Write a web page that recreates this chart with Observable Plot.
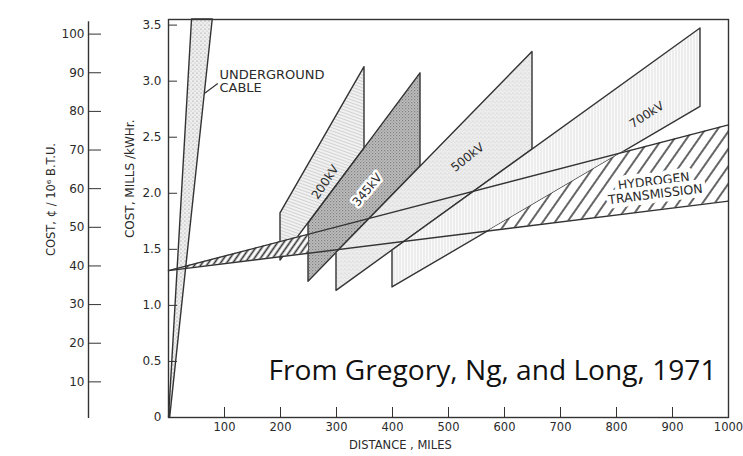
<!DOCTYPE html>
<html><head><meta charset="utf-8">
<script src="https://cdn.jsdelivr.net/npm/d3@7"></script>
<script src="https://cdn.jsdelivr.net/npm/@observablehq/plot@0.6"></script>
<style>body{margin:0;background:#fff}</style>
</head><body><div id="chart"></div>
<script>
// ---- tick values ----
const distanceTicks = [100, 200, 300, 400, 500, 600, 700, 800, 900, 1000];
const millsTicks = [0, 0.5, 1.0, 1.5, 2.0, 2.5, 3.0, 3.5];
const centsTicks = [10, 20, 30, 40, 50, 60, 70, 80, 90, 100];

// ---- overhead transmission bands (cost in mills/kWh vs distance in miles) ----
const bandNames      = ["200kV", "345kV", "500kV", "700kV"];
const bandStart      = [200, 250, 300, 400];
const bandEnd        = [350, 450, 650, 950];
const bandLowStart   = [1.40, 1.21, 1.13, 1.16];
const bandLowEnd     = [2.40, 2.24, 2.39, 2.77];
const bandHighStart  = [1.82, 1.73, 1.47, 1.49];
const bandHighEnd    = [3.125, 3.07, 3.26, 3.47];

// ---- underground cable wedge ----
const cableMills = [0, 3.55];
const cableLeft  = [1, 42];
const cableRight = [3, 79];

// ---- hydrogen transmission band ----
const h2Dist = [0, 1000];
const h2Low  = [1.31, 1.93];
const h2High = [1.31, 2.61];

// ---- labels ----
const labelText  = ["200kV", "345kV", "500kV", "700kV"];
const labelDist  = [280, 355, 534, 854];
const labelMills = [2.10, 2.03, 2.32, 2.70];
const labelAngle = [-56, -50, -38, -33];
const h2Label = ["HYDROGEN\nTRANSMISSION"];
const h2LabelPos = [868, 2.05];
const cableLabel = ["UNDERGROUND\nCABLE"];
const cableLabelPos = [91, 3.11];
const cableLeader = [[64, 2.89], [88, 2.98]];
const captionText = ["From Gregory, Ng, and Long, 1971"];
const captionPos = [978.6, 0.41];

// cents/10^6 BTU secondary axis expressed in mills scale units
const centsToMills = c => (3.86 * c - 3) / 112;
const millsToCents = m => Math.round((m * 112 + 3) / 3.86);

// helpers for line geometry
const lerp = (x0, y0, x1, y1) => x => y0 + (y1 - y0) * (x - x0) / (x1 - x0);
const h2LowAt = lerp(h2Dist[0], h2Low[0], h2Dist[1], h2Low[1]);
const h2HighAt = lerp(h2Dist[0], h2High[0], h2Dist[1], h2High[1]);
const kv700LowAt = lerp(bandStart[3], bandLowStart[3], bandEnd[3], bandLowEnd[3]);
function cross(f, g) { // solve f(x)=g(x) for linear f,g
  const a = f(0) - g(0), b = (f(1000) - g(1000)) - a;
  return -a * 1000 / b;
}
const xLowCross = cross(h2LowAt, kv700LowAt);
const xHighCross = cross(h2HighAt, kv700LowAt);

const bandFill = {"200kV": "url(#p200)", "345kV": "url(#p345)", "500kV": "url(#p500)", "700kV": "url(#p700)"};
const ink = "#333";

const bandMarks = bandNames.map((name, i) => Plot.areaY(
  [{d: bandStart[i], lo: bandLowStart[i], hi: bandHighStart[i]},
   {d: bandEnd[i], lo: bandLowEnd[i], hi: bandHighEnd[i]}],
  {x: "d", y1: "lo", y2: "hi", fill: bandFill[name], stroke: ink, strokeWidth: 1.4}
));

const cableData = cableMills.map((m, i) => ({m, a: cableLeft[i], b: cableRight[i]}));
const leftHatch = [0, 250].map(d => ({d, lo: h2LowAt(d), hi: h2HighAt(d)}));
const rightHatch = [
  {d: xLowCross, lo: h2LowAt(xLowCross), hi: h2LowAt(xLowCross)},
  {d: xHighCross, lo: h2LowAt(xHighCross), hi: h2HighAt(xHighCross)},
  {d: h2Dist[1], lo: h2Low[1], hi: h2High[1]}
];
const h2Data = h2Dist.map((d, i) => ({d, lo: h2Low[i], hi: h2High[i]}));
const labels = labelText.map((t, i) => ({t, d: labelDist[i], m: labelMills[i], r: labelAngle[i]}));

const plot = Plot.plot({
  width: 743, height: 456,
  marginLeft: 168, marginRight: 15, marginTop: 19, marginBottom: 39,
  x: {domain: [0, 1000], label: null},
  y: {domain: [0, 3.55], label: null},
  style: {fontFamily: "DejaVu Sans", fontSize: "12px", color: "#2b2b2b", background: "white"},
  marks: [
    ...bandMarks,
    Plot.areaY(leftHatch, {x: "d", y1: "lo", y2: "hi", fill: "url(#hLeft)"}),
    Plot.areaY(rightHatch, {x: "d", y1: "lo", y2: "hi", fill: "url(#hRight)"}),
    Plot.areaX(cableData, {y: "m", x1: "a", x2: "b", fill: "url(#pCable)", stroke: ink, strokeWidth: 1.4}),
    Plot.lineY(h2Data, {x: "d", y: "lo", stroke: ink, strokeWidth: 1.4}),
    Plot.lineY(h2Data, {x: "d", y: "hi", stroke: ink, strokeWidth: 1.4}),
    Plot.link([cableLeader], {x1: d => d[0][0], y1: d => d[0][1], x2: d => d[1][0], y2: d => d[1][1], stroke: ink, strokeWidth: 1.2}),
    Plot.text(labels.filter(l => l.t !== "345kV"), {x: "d", y: "m", text: "t", rotate: "r", fontSize: 12, fill: "#2b2b2b"}),
    Plot.text(labels.filter(l => l.t === "345kV"), {x: "d", y: "m", text: "t", rotate: "r", fontSize: 12, fill: "#2b2b2b", stroke: "white", strokeWidth: 5}),
    Plot.text(h2Label, {x: h2LabelPos[0], y: h2LabelPos[1], text: d => d, rotate: -7, fontSize: 12.5, lineHeight: 1.05, fill: "#2b2b2b", stroke: "white", strokeWidth: 9}),
    Plot.text(cableLabel, {x: cableLabelPos[0], y: cableLabelPos[1], text: d => d, textAnchor: "start", lineAnchor: "top", fontSize: 13, lineHeight: 1.05, fill: "#2b2b2b"}),
    Plot.text(captionText, {x: captionPos[0], y: captionPos[1], text: d => d, textAnchor: "end", fontSize: 27, fontFamily: "Open Sans", fill: "#111", className: "caption"}),
    // axes
    Plot.axisX(distanceTicks, {tickSize: -10, tickPadding: 15, tickFormat: d => String(d), fontSize: 11.5, label: null, stroke: ink}),
    Plot.axisY(millsTicks, {tickSize: -9, tickPadding: 16, tickFormat: d => d === 0 ? "0" : d.toFixed(1), label: null, stroke: ink}),
    Plot.axisY(centsTicks.map(centsToMills), {dx: -80, tickSize: -13, tickPadding: 17, tickFormat: millsToCents, label: null, stroke: ink}),
    Plot.ruleX([0], {y1: -0.01, y2: 3.53, dx: -80, stroke: ink, strokeWidth: 1.4}),
    // axis titles
    Plot.text(["COST, MILLS /kWHr."], {frameAnchor: "left", y: 1.60, dx: -38, rotate: -90, text: d => d, fontSize: 12, fill: "#2b2b2b"}),
    Plot.text(["COST, ¢ / 10⁶ B.T.U."], {frameAnchor: "left", y: 1.44, dx: -117, rotate: -90, text: d => d, fontSize: 11.5, fill: "#2b2b2b"}),
    Plot.text(["DISTANCE , MILES"], {frameAnchor: "bottom", x: 414, dy: 31, text: d => d, fontSize: 11.5, fill: "#2b2b2b"}),
    Plot.frame({stroke: ink, strokeWidth: 1.4})
  ]
});

const defs = `
<defs>
  <pattern id="pCable" patternUnits="userSpaceOnUse" width="4" height="4">
    <rect width="4" height="4" fill="#eeeeee"/>
    <circle cx="1" cy="1" r="0.6" fill="#888"/><circle cx="3" cy="3" r="0.5" fill="#aaa"/>
  </pattern>
  <pattern id="p200" patternUnits="userSpaceOnUse" width="3" height="3" patternTransform="rotate(20)">
    <rect width="3" height="3" fill="#f1f1f1"/>
    <path d="M0,0.5H3" stroke="#d2d2d2" stroke-width="1"/>
  </pattern>
  <pattern id="p345" patternUnits="userSpaceOnUse" width="3" height="3">
    <rect width="3" height="3" fill="#bdbdbd"/>
    <rect x="0" y="0" width="1.2" height="1.2" fill="#808080"/>
    <rect x="1.5" y="1.5" width="1.2" height="1.2" fill="#959595"/>
  </pattern>
  <pattern id="p500" patternUnits="userSpaceOnUse" width="4" height="4">
    <rect width="4" height="4" fill="#ececec"/>
    <circle cx="1" cy="1" r="0.6" fill="#c8c8c8"/><circle cx="3" cy="2.5" r="0.5" fill="#d2d2d2"/>
  </pattern>
  <pattern id="p700" patternUnits="userSpaceOnUse" width="3" height="6">
    <rect width="3" height="6" fill="#fafafa"/>
    <path d="M1,0V6" stroke="#dedede" stroke-width="0.9"/>
  </pattern>
  <pattern id="hLeft" patternUnits="userSpaceOnUse" width="5" height="5" patternTransform="rotate(35)">
    <rect width="5" height="5" fill="white"/>
    <path d="M1.5,0V5" stroke="#333" stroke-width="1.7"/>
  </pattern>
  <pattern id="hRight" patternUnits="userSpaceOnUse" width="10" height="10" patternTransform="rotate(35)">
    <rect width="10" height="10" fill="white"/>
    <path d="M2,0V10" stroke="#333" stroke-width="1.5"/>
  </pattern>
</defs>`;
plot.insertAdjacentHTML("afterbegin", defs);
const cap = plot.querySelector(".caption text");
if (cap) { cap.setAttribute("textLength", "448"); cap.setAttribute("lengthAdjust", "spacingAndGlyphs"); }
document.getElementById("chart").appendChild(plot);
</script>
</body></html>
